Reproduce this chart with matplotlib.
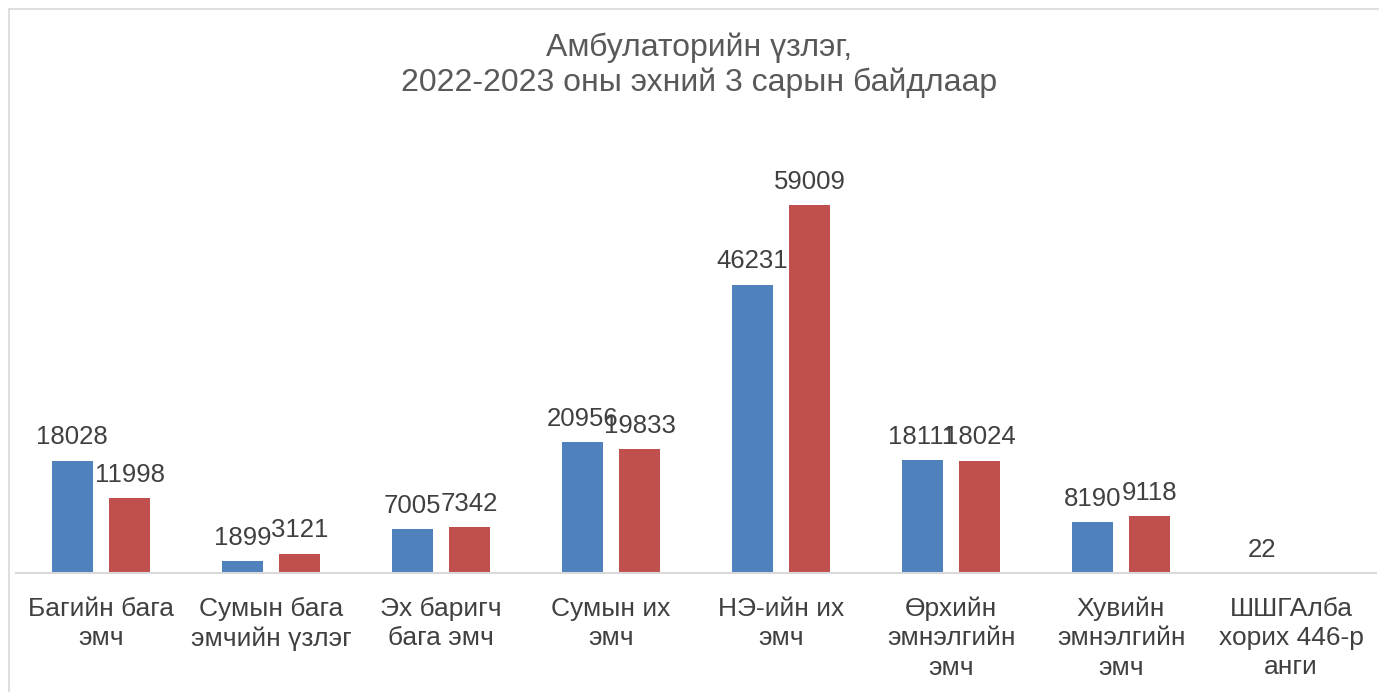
import matplotlib.pyplot as plt
import numpy as np
from matplotlib.patches import Rectangle

plt.rcParams['font.family'] = ['Liberation Sans', 'DejaVu Sans']

categories = ['Багийн бага\nэмч', 'Сумын бага\nэмчийн үзлэг', 'Эх баригч\nбага эмч',
              'Сумын их\nэмч', 'НЭ-ийн их\nэмч', 'Өрхийн\nэмнэлгийн\nэмч',
              'Хувийн\nэмнэлгийн\nэмч', 'ШШГАлба\nхорих 446-р\nанги']
y2022 = [18028, 1899, 7005, 20956, 46231, 18111, 8190, 22]
y2023 = [11998, 3121, 7342, 19833, 59009, 18024, 9118, None]

W, H = 1379, 692
fig = plt.figure(figsize=(W / 100, H / 100), dpi=100)
# chart frame
fig.add_artist(Rectangle((9 / W, -0.01), 1.0, 1 - 9 / H + 0.01, transform=fig.transFigure,
                         fill=False, edgecolor='#d9d9d9', linewidth=1.2))

ax = fig.add_axes([16 / W, 119 / H, 1360 / W, 443 / H])
x = np.arange(len(categories))
w = 0.24
off = 0.169

for i in range(len(categories)):
    v = y2022[i]
    if v is not None:
        ax.bar(x[i] - off, v, w, color='#4f81bd')
        ax.text(x[i] - off, v + 1800, str(v), ha='center', va='bottom', fontsize=18.5, color='#404040')
    v = y2023[i]
    if v is not None:
        ax.bar(x[i] + off, v, w, color='#c0504d')
        ax.text(x[i] + off, v + 1800, str(v), ha='center', va='bottom', fontsize=18.5, color='#404040')

ax.set_xlim(-0.5, len(categories) - 0.5)
ax.set_ylim(0, 71000)
ax.set_yticks([])
ax.set_xticks(x)
ax.set_xticklabels(categories, fontsize=19, color='#404040', linespacing=1.28)
ax.tick_params(axis='x', length=0, pad=17)
for s in ['top', 'right', 'left']:
    ax.spines[s].set_visible(False)
ax.spines['bottom'].set_color('#d9d9d9')
ax.spines['bottom'].set_linewidth(1.5)

fig.text(699 / W, 1 - 65 / H, 'Амбулаторийн үзлэг,\n2022-2023 оны эхний 3 сарын байдлаар',
         ha='center', va='center', fontsize=23, color='#595959', linespacing=1.2)

fig.savefig('out.png', dpi=100)
